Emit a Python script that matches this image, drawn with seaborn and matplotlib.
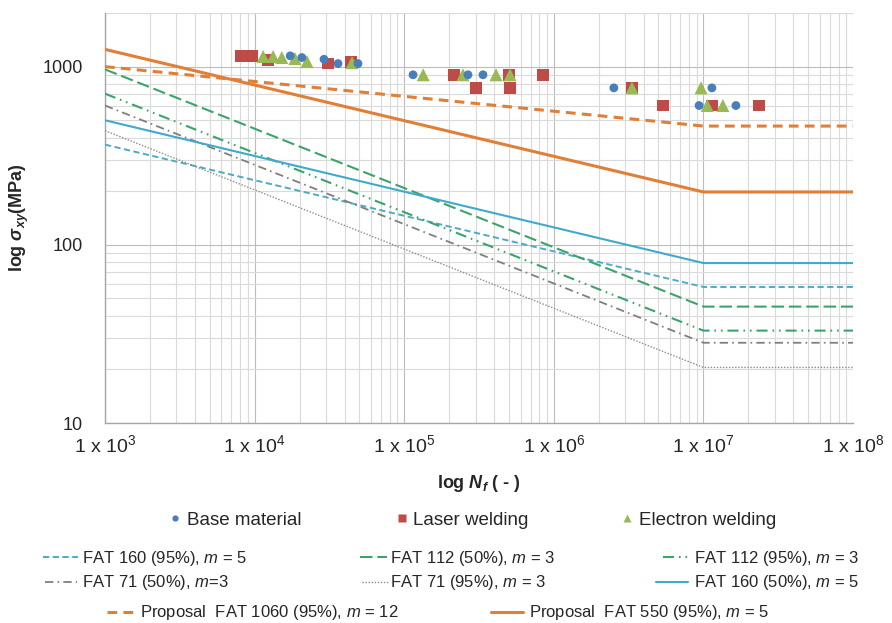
import numpy as np
import matplotlib
matplotlib.use('Agg')
import matplotlib.pyplot as plt
import seaborn as sns
from matplotlib.lines import Line2D
from matplotlib.ticker import LogLocator, FuncFormatter, NullFormatter

# ---- data ----
# test points: cycles to failure N_f and stress sigma_xy (MPa)
base_N = [17300, 20700, 29100, 36100, 49100, 114600, 267000, 336000,
          2.52e6, 1.14e7, 9.35e6, 1.65e7]
base_S = [1150, 1125, 1100, 1040, 1040, 900, 900, 900,
          760, 760, 605, 605]

laser_N = [8110, 9620, 12300, 30900, 44000, 215000, 302000, 501000,
           510000, 847000, 3.33e6, 5.37e6, 1.14e7, 2.36e7]
laser_S = [1150, 1150, 1090, 1040, 1060, 900, 760, 900,
           760, 900, 760, 605, 605, 605]

ebw_N = [11400, 13300, 15200, 18600, 22400, 44800, 134000, 247000,
         411000, 510000, 3.33e6, 9.64e6, 1.06e7, 1.35e7]
ebw_S = [1140, 1140, 1125, 1110, 1067, 1053, 900, 900,
         900, 900, 760, 760, 605, 605]

# S-N design curves: value at N=1e3, at the knee N=1e7, flat to N=1e8
knots_N = [1e3, 1e7, 1e8]
curve_names = ['FAT 160 (95%), $m$ = 5', 'FAT 112 (50%), $m$ = 3',
               'FAT 112 (95%), $m$ = 3', 'FAT 71 (50%), $m$=3',
               'FAT 71 (95%), $m$ = 3', 'FAT 160 (50%), $m$ = 5',
               'Proposal  FAT 1060 (95%), $m$ = 12',
               'Proposal  FAT 550 (95%), $m$ = 5']
curve_start = [365, 965, 705, 605, 437, 500, 1000, 1250]
curve_knee = [58, 45, 33, 28.2, 20.5, 79, 464, 198]

# ---- styles ----
curve_color = ['#4BACC6', '#3BA46B', '#3BA46B', '#7F7F7F', '#8C8C8C',
               '#3FAACB', '#E07F35', '#E07F35']
curve_dash = [(0, (4.5, 2.5)), (0, (9, 3.5)), (0, (8, 3.5, 1.2, 3.5, 1.2, 3.5)),
              (0, (6, 3, 1.2, 3)), (0, (1, 1.2)), '-', (0, (7, 4.5)), '-']
curve_lw = [1.4, 1.5, 1.5, 1.3, 1.0, 1.5, 2.2, 2.2]

c_base, c_laser, c_ebw = '#4A7EBB', '#BE4B48', '#98B954'

sns.set_style('white')
plt.rcParams['font.family'] = ['Liberation Sans', 'DejaVu Sans']
plt.rcParams['mathtext.fontset'] = 'custom'
plt.rcParams['mathtext.rm'] = 'Liberation Sans'
plt.rcParams['mathtext.it'] = 'Liberation Sans:italic'
plt.rcParams['mathtext.bf'] = 'Liberation Sans:bold:italic'
plt.rcParams['lines.scale_dashes'] = False

W, H = 892, 623
fig = plt.figure(figsize=(W / 100, H / 100), dpi=100)
ax = fig.add_axes([105 / W, 1 - 423 / H, 748 / W, 410 / H])

curve_lines = []
for i in range(len(curve_names)):
    vals = [curve_start[i], curve_knee[i], curve_knee[i]]
    sns.lineplot(x=knots_N, y=vals, ax=ax, color=curve_color[i],
                 linewidth=curve_lw[i], linestyle=curve_dash[i],
                 legend=False, zorder=3)
    curve_lines.append(ax.lines[-1])

sns.scatterplot(x=laser_N, y=laser_S, ax=ax, color=c_laser, marker='s',
                s=68, edgecolor='none', zorder=4, legend=False)
sns.scatterplot(x=ebw_N, y=ebw_S, ax=ax, color=c_ebw, marker='^',
                s=88, edgecolor='none', zorder=4, legend=False)
sns.scatterplot(x=base_N, y=base_S, ax=ax, color=c_base, marker='o',
                s=40, edgecolor='none', zorder=4, legend=False)

ax.set_xscale('log')
ax.set_yscale('log')
ax.set_xlim(1e3, 1e8)
ax.set_ylim(10, 2000)

ax.xaxis.set_minor_locator(LogLocator(base=10, subs=np.arange(2, 10)))
ax.yaxis.set_minor_locator(LogLocator(base=10, subs=np.arange(2, 10)))
ax.xaxis.set_major_formatter(
    FuncFormatter(lambda v, p: '1 x 10$^{%d}$' % int(round(np.log10(v)))))
ax.yaxis.set_major_formatter(FuncFormatter(lambda v, p: '%d' % v))
ax.xaxis.set_minor_formatter(NullFormatter())
ax.yaxis.set_minor_formatter(NullFormatter())

ax.set_axisbelow(True)
ax.grid(which='major', color='#BDBDBD', linewidth=0.8)
ax.grid(which='minor', color='#DADADA', linewidth=0.8)

for sp in ['top', 'right']:
    ax.spines[sp].set_visible(False)
for sp in ['left', 'bottom']:
    ax.spines[sp].set_color('#A6A6A6')
    ax.spines[sp].set_linewidth(1.0)

ax.tick_params(axis='both', which='major', labelsize=13, length=4,
               color='#A6A6A6', direction='out')
ax.tick_params(axis='x', which='major', labelsize=14, pad=4)
ax.tick_params(axis='y', which='major', pad=12)
ax.tick_params(axis='x', which='minor', length=2.5, color='#BDBDBD')
ax.tick_params(axis='y', which='minor', length=0)

ax.set_ylabel(r'log $\mathbf{\sigma_{xy}}$(MPa)', fontsize=13,
              fontweight='bold', labelpad=8)
ax.set_xlabel(r'log $\mathbf{N_f}$ ( - )', fontsize=13, fontweight='bold',
              labelpad=12)

# ---- legend, one key at a time ----
def put_key(handle, label, hx0, hx1, tx, y, size):
    em = size * 100 / 72.0
    fig.legend([handle], [label], loc='center left',
               bbox_to_anchor=(hx0 / W, 1 - y / H), frameon=False,
               fontsize=size, handlelength=(hx1 - hx0) / em,
               handletextpad=(tx - hx1) / em, borderpad=0,
               borderaxespad=0)

mk_base = Line2D([], [], ls='none', marker='o', ms=4.5, color=c_base, mec='none')
mk_laser = Line2D([], [], ls='none', marker='s', ms=6, color=c_laser, mec='none')
mk_ebw = Line2D([], [], ls='none', marker='^', ms=6, color=c_ebw, mec='none')

put_key(mk_base, 'Base material', 169, 181, 187, 520, 13.5)
put_key(mk_laser, 'Laser welding', 396, 408, 413, 520, 13.5)
put_key(mk_ebw, 'Electron welding', 621, 633, 639, 520, 13.5)

key_pos = [(43, 78, 82, 558), (360, 387, 390, 558), (663, 689, 694, 558),
           (45, 77, 82, 583), (362, 388, 390, 583), (656, 688, 694, 583),
           (107, 133, 140, 613), (491, 523, 529, 613)]
for i, (hx0, hx1, tx, y) in enumerate(key_pos):
    put_key(curve_lines[i], curve_names[i], hx0, hx1, tx, y, 12)

fig.savefig('out.png', dpi=100)
